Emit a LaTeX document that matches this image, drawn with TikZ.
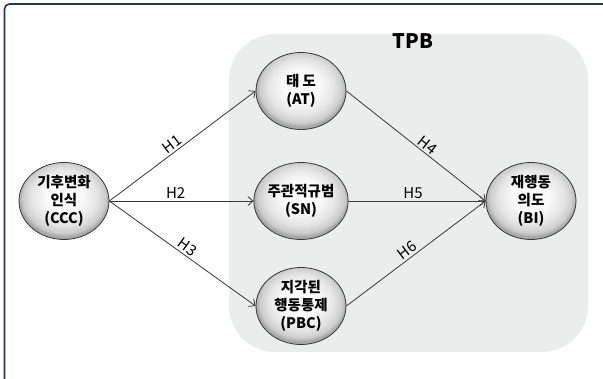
\documentclass[tikz,border=0pt]{standalone}
\usepackage{fontspec}
\setmainfont{Noto Sans CJK KR}
\usetikzlibrary{arrows.meta,shapes.geometric}
\definecolor{framec}{RGB}{38,56,78}
\definecolor{tpbgray}{RGB}{235,236,236}
\definecolor{linec}{RGB}{55,55,55}
\definecolor{ballrim}{RGB}{168,168,168}
\pgfdeclareradialshading{ballshade}{\pgfpoint{0bp}{4bp}}{color(0bp)=(white); color(10bp)=(white!98!black); color(18bp)=(white!90!black); color(23bp)=(white!80!black); color(25bp)=(ballrim); color(50bp)=(ballrim)}
\begin{document}
\begin{tikzpicture}[x=1pt,y=-1pt,
  construct/.style={shape=ellipse, minimum width=90pt, minimum height=77pt, inner sep=0pt,
    draw=linec, line width=0.8pt, shading=ballshade, align=center,
    font=\fontsize{14.5}{18}\selectfont\bfseries},
  link/.style={draw=linec, line width=0.8pt, -{Straight Barb[length=5pt,width=9pt,line width=0.8pt]}},
  hlabel/.style={font=\fontsize{15}{16}\selectfont, text=black, inner sep=1.5pt, outer sep=1pt}
]
\useasboundingbox (0,0) rectangle (603,378);
\fill[white] (0,0) rectangle (603,378);
\draw[framec, line width=1.6pt, rounded corners=5pt] (4.5,4) rectangle (640,420);
\fill[tpbgray, rounded corners=46pt] (229,34) rectangle (588,352);
\node[font=\fontsize{20}{22}\selectfont\bfseries] (tpb) at (413,41) {TPB};

\node[construct] (ccc) at (64,201) {기후변화\\인식\\(CCC)};
\node[construct] (at) at (301,91) {태 도\\(AT)};
\node[construct] (sn) at (301,201) {주관적규범\\(SN)};
\node[construct] (pbc) at (301,306) {지각된\\행동통제\\(PBC)};
\node[construct] (bi) at (531,201) {재행동\\의도\\(BI)};

\draw[link] (ccc.east) -- node[hlabel, sloped, above, pos=0.46] {H1} (at.west);
\draw[link] (ccc.east) -- node[hlabel, above, pos=0.46] {H2} (sn.west);
\draw[link] (ccc.east) -- node[hlabel, sloped, above, pos=0.5] {H3} (pbc.west);
\draw[link] (at.east) -- node[hlabel, sloped, above, pos=0.55] {H4} (bi.west);
\draw[link] (sn.east) -- node[hlabel, above, pos=0.47] {H5} (bi.west);
\draw[link] (pbc.east) -- node[hlabel, sloped, above, pos=0.47] {H6} (bi.west);
\end{tikzpicture}
\end{document}
